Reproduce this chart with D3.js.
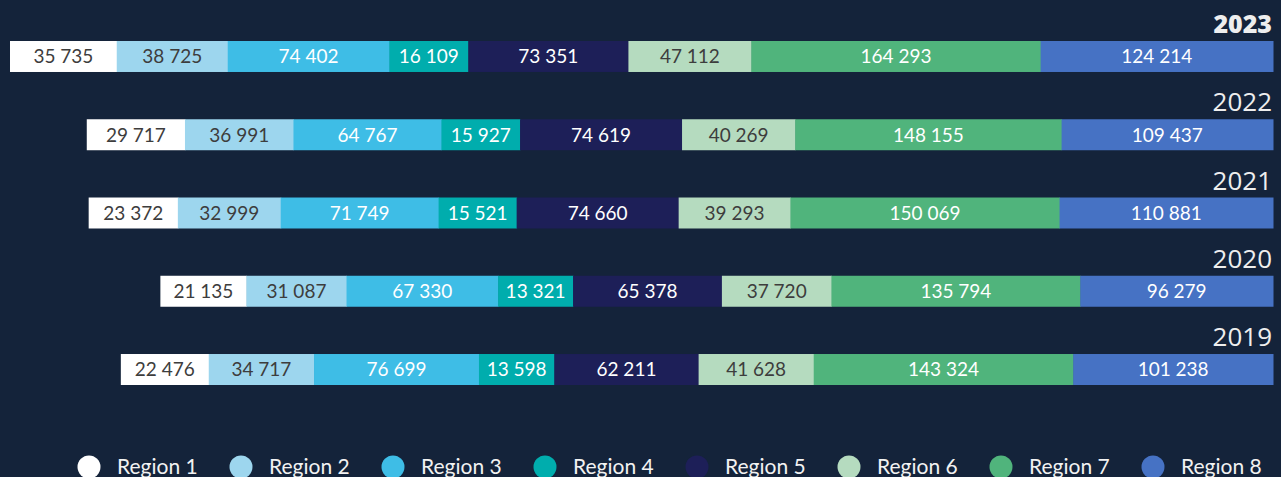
<!DOCTYPE html>
<html>
<head>
<meta charset="utf-8">
<script src="https://cdn.jsdelivr.net/npm/d3@7"></script>
<style>
  html, body { margin: 0; padding: 0; background: #14233a; overflow: hidden; }
  svg { display: block; }
</style>
</head>
<body>
<svg id="chart" width="1281" height="477"></svg>
<script>
// ---- data ----
const years = ["2023", "2022", "2021", "2020", "2019"];
const regions = ["Region 1", "Region 2", "Region 3", "Region 4", "Region 5", "Region 6", "Region 7", "Region 8"];
const values2023 = [35735, 38725, 74402, 16109, 73351, 47112, 164293, 124214];
const values2022 = [29717, 36991, 64767, 15927, 74619, 40269, 148155, 109437];
const values2021 = [23372, 32999, 71749, 15521, 74660, 39293, 150069, 110881];
const values2020 = [21135, 31087, 67330, 13321, 65378, 37720, 135794, 96279];
const values2019 = [22476, 34717, 76699, 13598, 62211, 41628, 143324, 101238];
const colors = ["#ffffff", "#9dd6ee", "#3ebde6", "#00adad", "#1d1f58", "#b5dbbf", "#50b47c", "#4672c4"];
const darkLabel = [true, true, false, false, false, true, false, false];

const seriesByYear = { "2023": values2023, "2022": values2022, "2021": values2021, "2020": values2020, "2019": values2019 };

// ---- layout ----
const svg = d3.select("#chart");
const rightEdge = 1273;
const maxVal = d3.max(Object.values(seriesByYear).flat());

// segment width scale (minimum width for label room + linear part)
const wScale = d3.scaleLinear().domain([0, maxVal]).range([56, 56 + 0.00142 * maxVal]);

const y = d3.scaleBand().domain(years).range([41, 385]).paddingInner(0.604).paddingOuter(0);

const fmt = v => d3.format(",")(v).replace(/,/g, " ");

years.forEach((yr, yi) => {
  const vals = seriesByYear[yr];
  const widths = vals.map(v => wScale(v));
  const total = d3.sum(widths);
  let x0 = rightEdge - total;
  const segs = vals.map((v, i) => {
    const s = { v, i, x: x0, w: widths[i] };
    x0 += widths[i];
    return s;
  });
  const g = svg.append("g");
  g.selectAll("rect").data(segs).join("rect")
    .attr("x", d => d.x)
    .attr("y", y(yr))
    .attr("width", d => d.w + 0.5)
    .attr("height", y.bandwidth())
    .attr("fill", d => colors[d.i]);
  g.selectAll("text.val").data(segs).join("text")
    .attr("class", "val")
    .attr("x", d => d.x + d.w / 2)
    .attr("y", y(yr) + y.bandwidth() / 2)
    .attr("dy", "0.36em")
    .attr("text-anchor", "middle")
    .attr("font-family", "Lato, 'Open Sans', sans-serif")
    .attr("font-size", 19)
    .attr("fill", d => darkLabel[d.i] ? "#3d3d3d" : "#ffffff")
    .text(d => fmt(d.v));
  svg.append("text")
    .attr("x", 1272)
    .attr("y", y(yr) - 8)
    .attr("text-anchor", "end")
    .attr("font-family", "'Open Sans', sans-serif")
    .attr("font-size", yi === 0 ? 25 : 26)
    .attr("font-weight", yi === 0 ? 800 : 400)
    .attr("fill", "#eeeeee")
    .text(yr);
});

// ---- legend ----
const lx = d3.scalePoint().domain(regions).range([89, 1153]);
const lg = svg.append("g");
const items = lg.selectAll("g").data(regions).join("g")
  .attr("transform", d => `translate(${lx(d)},467)`);
items.append("circle").attr("r", 11.5).attr("fill", (d, i) => colors[i]);
items.append("text")
  .attr("x", 28)
  .attr("y", 6.5)
  .attr("font-family", "Lato, 'Open Sans', sans-serif")
  .attr("font-size", 21)
  .attr("fill", "#f2f2f2")
  .text(d => d);
</script>
</body>
</html>
